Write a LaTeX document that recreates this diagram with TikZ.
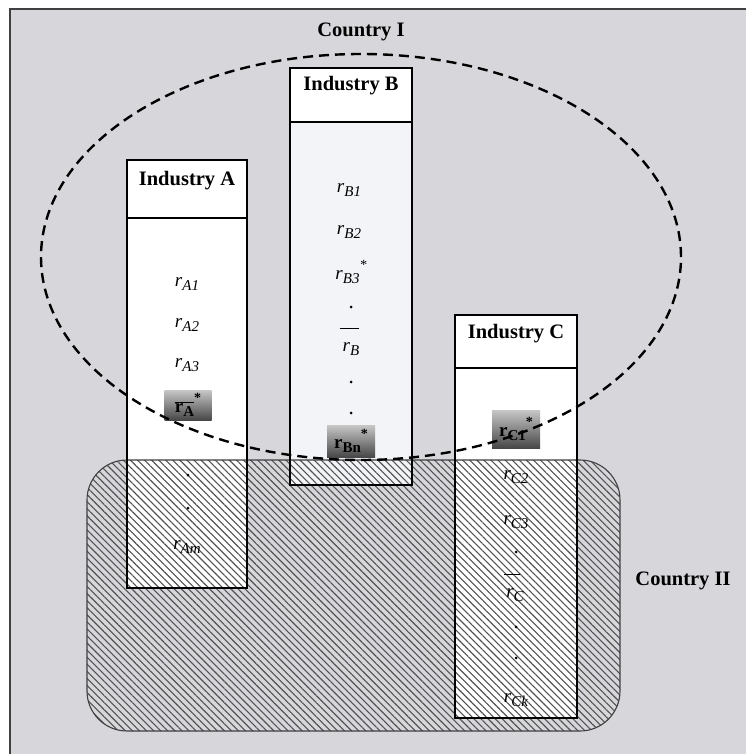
\documentclass[tikz,border=0pt]{standalone}
\usepackage{fontspec}
\setmainfont{Liberation Serif}
\usetikzlibrary{patterns.meta}
\definecolor{bg}{HTML}{D6D6DB}
\definecolor{bbody}{HTML}{F3F4F7}
\newcommand\mysub[1]{\raisebox{-0.45ex}{\fontsize{15}{15}\selectfont #1}}
\newcommand\mystar{\raisebox{1.1ex}{\fontsize{14}{14}\selectfont *}}
\begin{document}
\begin{tikzpicture}[x=1pt,y=-1pt,
  framel/.style={draw=black!75,line width=2pt},
  indfill/.style={inner sep=0pt,outer sep=0pt,anchor=north west,minimum width=120pt},
  indline/.style={draw=black,line width=1.2pt},
  title/.style={font=\bfseries\fontsize{20.5}{22}\selectfont,inner sep=0pt},
  val/.style={font=\itshape\fontsize{19}{21}\selectfont,inner sep=0pt},
  starbox/.style={top color=black!22,bottom color=black!72,minimum width=48pt,inner sep=0pt,font=\bfseries\fontsize{19}{21}\selectfont},
  dotn/.style={circle,fill=black,inner sep=0pt,minimum size=3pt},
  hatch/.style={pattern={Lines[angle=-45,distance=5pt,line width=1.1pt]},pattern color=black!68},
  countryone/.style={dash pattern=on 10pt off 6pt,line width=2.4pt},
  countrylbl/.style={font=\bfseries\fontsize{20.5}{22}\selectfont,inner sep=0pt}
]
\useasboundingbox (0,0) rectangle (746,754);
% background and frame
\fill[bg] (10,9) rectangle (746,754);
\draw[framel] (10,754) -- (10,9) -- (746,9);

% industry box fills
\node[indfill,fill=white,minimum height=428pt] (boxA) at (127,160) {};
\node[indfill,fill=bbody,minimum width=122pt,minimum height=417pt] (boxB) at (290,68) {};
\node[indfill,fill=white,minimum width=122pt,minimum height=403pt] (boxC) at (455,315) {};
\fill[white] (290,68) rectangle (412,122);

% Country II hatched region
\path[hatch,rounded corners=40pt] (87,460) rectangle (620,731);
\draw[black!75,line width=1.1pt,rounded corners=40pt] (87,460) rectangle (620,731);

% box outlines and header lines
\draw[indline] (boxA.north west) rectangle (boxA.south east);
\draw[indline] (boxB.north west) rectangle (boxB.south east);
\draw[indline] (boxC.north west) rectangle (boxC.south east);
\draw[indline] (127,218) -- (247,218);
\draw[indline] (290,122) -- (412,122);
\draw[indline] (455,368) -- (577,368);

% titles
\node[title] (tA) at (187,181) {Industry A};
\node[title] (tB) at (351,86) {Industry B};
\node[title] (tC) at (516,334) {Industry C};

% Industry A values
\node[val] (rA1) at (187,284) {r\mysub{A1}};
\node[val] (rA2) at (187,325) {r\mysub{A2}};
\node[val] (rA3) at (187,365) {r\mysub{A3}};
\node[starbox,minimum width=47pt,minimum height=30pt] (sA) at (188,405) {$\overline{\hbox{r\mysub{A}}}$\mystar};
\node[dotn] (dA1) at (188,475) {};
\node[dotn] (dA2) at (188,508) {};
\node[val] (rAm) at (187,547) {r\mysub{Am}};

% Industry B values
\node[val] (rB1) at (349,190) {r\mysub{B1}};
\node[val] (rB2) at (349,232) {r\mysub{B2}};
\node[val] (rB3) at (351,272) {r\mysub{B3}\mystar};
\node[dotn] (dB1) at (351,307) {};
\node[val] (rB) at (351,349) {r\mysub{B}};
\draw[line width=1.3pt] ([yshift=14pt]rB.north west) ++(-3,0) coordinate (bBa) -- ++(19,0) coordinate (bBb);
\node[dotn] (dB2) at (351,382) {};
\node[dotn] (dB3) at (351,413) {};
\node[starbox,minimum height=32pt] (sB) at (351,441) {r\mysub{Bn}\mystar};

% Industry C values
\node[starbox,minimum height=38pt] (sC) at (516,429) {r\mysub{C1}\mystar};
\node[val] (rC2) at (516,477) {r\mysub{C2}};
\node[val] (rC3) at (516,522) {r\mysub{C3}};
\node[dotn] (dC1) at (516,552) {};
\node[val] (rC) at (515,595) {r\mysub{C}};
\draw[line width=1.3pt] ([yshift=14pt]rC.north west) ++(-2,0) coordinate (bCa) -- ++(16,0) coordinate (bCb);
\node[dotn] (dC2) at (516,627) {};
\node[dotn] (dC3) at (516,658) {};
\node[val] (rCk) at (516,700) {r\mysub{Ck}};

% Country I
\draw[countryone] (361,257) ellipse [x radius=320pt,y radius=203pt];
\node[countrylbl] (c1) at (361,32) {Country I};
\node[countrylbl] (c2) at (683,581) {Country II};
\end{tikzpicture}
\end{document}
